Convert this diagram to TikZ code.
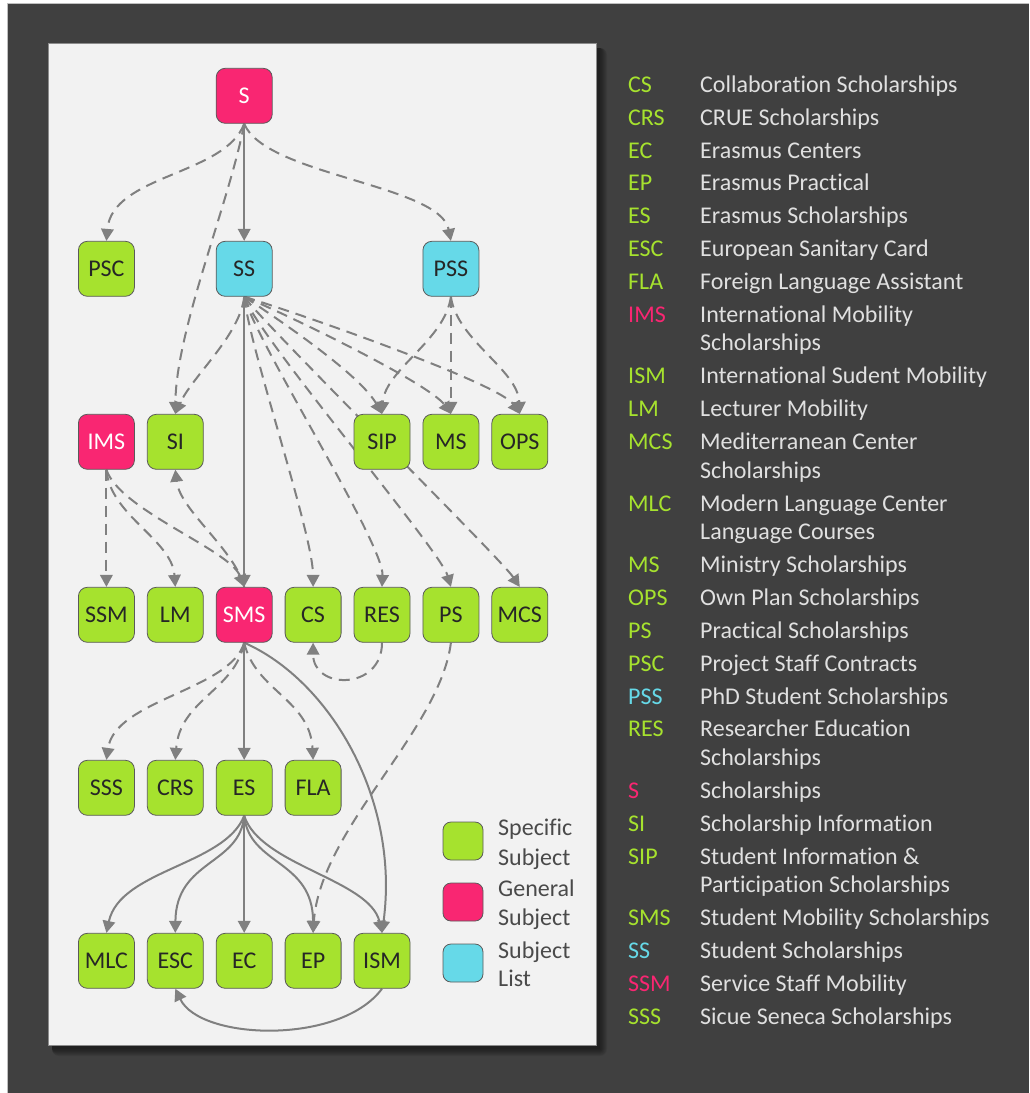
\documentclass[tikz,border=0pt]{standalone}
\usepackage{fontspec}
\setmainfont{Carlito}[Ligatures={NoCommon}]
\usetikzlibrary{arrows.meta}

\definecolor{specific}{HTML}{A6E22E}
\definecolor{general}{HTML}{F92672}
\definecolor{sublist}{HTML}{66D9E8}
\definecolor{framebg}{HTML}{404040}
\definecolor{panelbg}{HTML}{F2F2F2}
\definecolor{edgegray}{HTML}{808080}
\definecolor{boxline}{HTML}{5A5A5A}
\definecolor{desctext}{HTML}{E0E0E0}
\definecolor{keytext}{HTML}{4A4A4A}

\newcommand\subjfont{\fontsize{24}{28}\selectfont}

\pgfdeclarelayer{back}
\pgfdeclarelayer{links}
\pgfsetlayers{back,links,main}

\tikzset{
  subj/.style={draw=boxline, line width=0.8pt, rounded corners=9pt,
    minimum width=56pt, minimum height=55pt, inner sep=0pt,
    font=\subjfont, text=black!85},
  spec/.style={subj, fill=specific},
  gen/.style={subj, fill=general, text=white},
  lst/.style={subj, fill=sublist},
  keybox/.style={minimum width=40pt, minimum height=38pt, rounded corners=8pt},
  keylabel/.style={anchor=base west, inner sep=0pt, font=\subjfont, text=keytext},
  abbr/.style={anchor=base west, inner sep=0pt, font=\subjfont},
  desc/.style={anchor=base west, inner sep=0pt, font=\subjfont, text=desctext},
  link/.style={draw=edgegray, line width=2pt, -{Triangle[length=12pt,width=12.5pt]}},
  dlink/.style={link, dash pattern=on 11pt off 7pt},
}

\begin{document}
\begin{tikzpicture}[x=1pt, y=-1pt]
\useasboundingbox (0,0) rectangle (1029,1093);

% frame, panel and its shadow
\begin{pgfonlayer}{back}
  \fill[white] (0,0) rectangle (1029,1093);
  \fill[framebg] (7,3) rectangle (1029,1093);
  \draw[line width=1pt, color=black!25] (7.5,1093) -- (7.5,3.5) -- (1029,3.5);
  \foreach \s in {0,1,...,7}
    \fill[black, opacity=0.07, rounded corners=\s pt] (52,48) rectangle (600+\s,1049+\s);
  \fill[panelbg, draw=black!45, line width=0.8pt] (48,43) rectangle (596,1045);
\end{pgfonlayer}

% subjects
\node[gen]  (S)   at (244.2,95.8)  {S};
\node[spec] (PSC) at (106.4,268.8) {PSC};
\node[lst]  (SS)  at (244.2,268.8) {SS};
\node[lst]  (PSS) at (450.9,268.8) {PSS};

\node[gen]  (IMS) at (106.4,441.8) {IMS};
\node[spec] (SI)  at (175.3,441.8) {SI};
\node[spec] (SIP) at (382.0,441.8) {SIP};
\node[spec] (MS)  at (450.9,441.8) {MS};
\node[spec] (OPS) at (519.8,441.8) {OPS};

\node[spec] (SSM) at (106.4,614.8) {SSM};
\node[spec] (LM)  at (175.3,614.8) {LM};
\node[gen]  (SMS) at (244.2,614.8) {SMS};
\node[spec] (CS)  at (313.1,614.8) {CS};
\node[spec] (RES) at (382.0,614.8) {RES};
\node[spec] (PS)  at (450.9,614.8) {PS};
\node[spec] (MCS) at (519.8,614.8) {MCS};

\node[spec] (SSS) at (106.4,787.8) {SSS};
\node[spec] (CRS) at (175.3,787.8) {CRS};
\node[spec] (ES)  at (244.2,787.8) {ES};
\node[spec] (FLA) at (313.1,787.8) {FLA};

\node[spec] (MLC) at (106.4,960.8) {MLC};
\node[spec] (ESC) at (175.3,960.8) {ESC};
\node[spec] (EC)  at (244.2,960.8) {EC};
\node[spec] (EP)  at (313.1,960.8) {EP};
\node[spec] (ISM) at (382.0,960.8) {ISM};

% connectors
\begin{pgfonlayer}{links}
  % from S
  \draw[dlink] (S.south) .. controls +(-19.2,51.7) and +(5.6,-66.3) .. (PSC.north);
  \draw[link]  (S.south) -- (SS.north);
  \draw[dlink] (S.south) .. controls +(20.8,51.7) and +(-10.9,-56.3) .. (PSS.north);
  \draw[dlink] (S.south) .. controls +(-14.2,76.7) and +(0.7,-84.3) .. (SI.north);
  % from SS
  \draw[dlink] (SS.south) .. controls +(-4.2,38.7) and +(16.7,-37.3) .. (SI.north);
  \draw[link]  (SS.south) -- (SMS.north);
  \draw[dlink] (SS.south) .. controls +(5.8,53.7) and +(-0.1,-53.3) .. (CS.north);
  \draw[dlink] (SS.south) .. controls +(10.8,43.7) and +(2,-43.3) .. (RES.north);
  \draw[dlink] (SS.south) .. controls +(11.8,37.7) and +(-10.9,-37.3) .. (PS.north);
  \draw[dlink] (SS.south) .. controls +(15.8,23.7) and +(-19.8,-29.3) .. (MCS.north);
  \draw[dlink] (SS.south) .. controls +(35.8,23.7) and +(-22,-39.3) .. (SIP.north);
  \draw[dlink] (SS.south) .. controls +(55.8,23.7) and +(-20.9,-29.3) .. (MS.north);
  \draw[dlink] (SS.south) .. controls +(75.8,23.7) and +(-19.8,-29.3) .. (OPS.north);
  % from PSS
  \draw[dlink] (PSS.south) .. controls +(-5.9,43.7) and +(3,-44.3) .. (SIP.north);
  \draw[dlink] (PSS.south) -- (MS.north);
  \draw[dlink] (PSS.south) .. controls +(6.1,43.7) and +(-1.8,-44.3) .. (OPS.north);
  % from IMS
  \draw[dlink] (IMS.south) -- (SSM.north);
  \draw[dlink] (IMS.south) .. controls +(3.6,45.7) and +(-3.3,-47.3) .. (LM.north);
  \draw[dlink] (IMS.south) .. controls +(13.6,40.7) and +(-14.2,-37.3) .. (SMS.north);
  % from SMS
  \draw[dlink] (SMS.north) .. controls +(-9.2,-37.3) and +(4.7,40.7) .. (SI.south);
  \draw[dlink] (SMS.south) .. controls +(-14.2,47.7) and +(8.6,-60.3) .. (SSS.north);
  \draw[dlink] (SMS.south) .. controls +(-9.2,47.7) and +(4.7,-60.3) .. (CRS.north);
  \draw[link]  (SMS.south) -- (ES.north);
  \draw[dlink] (SMS.south) .. controls +(10.8,47.7) and +(-3.1,-60.3) .. (FLA.north);
  \draw[link]  (SMS.south) .. controls +(85.8,37.7) and +(18,-133.3) .. (ISM.north);
  % from ES
  \draw[link] (ES.south) .. controls +(-19.2,49.7) and +(13.6,-63.3) .. (MLC.north);
  \draw[link] (ES.south) .. controls +(-4.2,49.7) and +(0.7,-73.3) .. (ESC.north);
  \draw[link] (ES.south) -- (EC.north);
  \draw[link] (ES.south) .. controls +(4.8,49.7) and +(-0.1,-73.3) .. (EP.north);
  \draw[link] (ES.south) .. controls +(15.8,49.7) and +(-12,-53.3) .. (ISM.north);
  % remaining links
  \draw[dlink] (RES.south) .. controls +(0,47.7) and +(0,47.7) .. (CS.south);
  \draw[dlink] (PS.south) .. controls +(-10.9,87.7) and +(6.9,-103.3) .. (EP.north);
  \draw[link]  (ISM.south) .. controls +(-42,56.7) and +(24.7,51.7) .. (ESC.south);
\end{pgfonlayer}

% key of subject kinds
\node[spec, keybox] (keySpec) at (463,841) {};
\node[gen,  keybox] (keyGen)  at (463,902) {};
\node[lst,  keybox] (keyList) at (463,963) {};
\node[keylabel] (keySpecA) at (498,835)   {Specific};
\node[keylabel] (keySpecB) at (498,865)   {Subject};
\node[keylabel] (keyGenA)  at (498,896.7) {General};
\node[keylabel] (keyGenB)  at (498,925)   {Subject};
\node[keylabel] (keyListA) at (498,958.3) {Subject};
\node[keylabel] (keyListB) at (498,986.7) {List};

% glossary
\node[abbr, text=specific] (aCS)  at (628,92.3)  {CS};
\node[desc] (dCS)  at (700,92.3)  {Collaboration Scholarships};
\node[abbr, text=specific] (aCRS) at (628,125.15) {CRS};
\node[desc] (dCRS) at (700,125.15) {CRUE Scholarships};
\node[abbr, text=specific] (aEC)  at (628,158.0) {EC};
\node[desc] (dEC)  at (700,158.0) {Erasmus Centers};
\node[abbr, text=specific] (aEP)  at (628,190.85) {EP};
\node[desc] (dEP)  at (700,190.85) {Erasmus Practical};
\node[abbr, text=specific] (aES)  at (628,223.7) {ES};
\node[desc] (dES)  at (700,223.7) {Erasmus Scholarships};
\node[abbr, text=specific] (aESC) at (628,256.55) {ESC};
\node[desc] (dESC) at (700,256.55) {European Sanitary Card};
\node[abbr, text=specific] (aFLA) at (628,289.4) {FLA};
\node[desc] (dFLA) at (700,289.4) {Foreign Language Assistant};
\node[abbr, text=general]  (aIMS) at (628,322.25) {IMS};
\node[desc] (dIMS) at (700,322.25) {International Mobility};
\node[desc] (dIMSb) at (700,350.95) {Scholarships};
\node[abbr, text=specific] (aISM) at (628,383.8) {ISM};
\node[desc] (dISM) at (700,383.8) {International Sudent Mobility};
\node[abbr, text=specific] (aLM)  at (628,416.65) {LM};
\node[desc] (dLM)  at (700,416.65) {Lecturer Mobility};
\node[abbr, text=specific] (aMCS) at (628,449.5) {MCS};
\node[desc] (dMCS) at (700,449.5) {Mediterranean Center};
\node[desc] (dMCSb) at (700,478.2) {Scholarships};
\node[abbr, text=specific] (aMLC) at (628,511.05) {MLC};
\node[desc] (dMLC) at (700,511.05) {Modern Language Center};
\node[desc] (dMLCb) at (700,539.75) {Language Courses};
\node[abbr, text=specific] (aMS)  at (628,572.6) {MS};
\node[desc] (dMS)  at (700,572.6) {Ministry Scholarships};
\node[abbr, text=specific] (aOPS) at (628,605.45) {OPS};
\node[desc] (dOPS) at (700,605.45) {Own Plan Scholarships};
\node[abbr, text=specific] (aPS)  at (628,638.3) {PS};
\node[desc] (dPS)  at (700,638.3) {Practical Scholarships};
\node[abbr, text=specific] (aPSC) at (628,671.15) {PSC};
\node[desc] (dPSC) at (700,671.15) {Project Staff Contracts};
\node[abbr, text=sublist]  (aPSS) at (628,704.0) {PSS};
\node[desc] (dPSS) at (700,704.0) {PhD Student Scholarships};
\node[abbr, text=specific] (aRES) at (628,736.85) {RES};
\node[desc] (dRES) at (700,736.85) {Researcher Education};
\node[desc] (dRESb) at (700,765.55) {Scholarships};
\node[abbr, text=general]  (aS)   at (628,798.4) {S};
\node[desc] (dS)   at (700,798.4) {Scholarships};
\node[abbr, text=specific] (aSI)  at (628,831.25) {SI};
\node[desc] (dSI)  at (700,831.25) {Scholarship Information};
\node[abbr, text=specific] (aSIP) at (628,864.1) {SIP};
\node[desc] (dSIP) at (700,864.1) {Student Information \&};
\node[desc] (dSIPb) at (700,892.8) {Participation Scholarships};
\node[abbr, text=specific] (aSMS) at (628,925.65) {SMS};
\node[desc] (dSMS) at (700,925.65) {Student Mobility Scholarships};
\node[abbr, text=sublist]  (aSS)  at (628,958.5) {SS};
\node[desc] (dSS)  at (700,958.5) {Student Scholarships};
\node[abbr, text=general]  (aSSM) at (628,991.35) {SSM};
\node[desc] (dSSM) at (700,991.35) {Service Staff Mobility};
\node[abbr, text=specific] (aSSS) at (628,1024.2) {SSS};
\node[desc] (dSSS) at (700,1024.2) {Sicue Seneca Scholarships};
\end{tikzpicture}
\end{document}
